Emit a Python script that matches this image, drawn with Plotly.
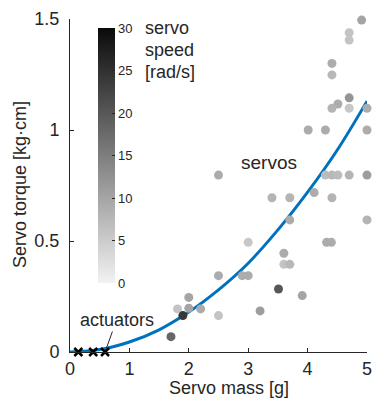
import plotly.graph_objects as go

# Servo data: mass [g], torque [kg·cm], speed [rad/s]
servo_mass = [4.91, 4.70, 4.70, 4.41, 4.41, 4.70, 4.51, 4.41, 4.70, 5.00,
              4.01, 4.30, 5.00, 2.50, 4.30, 4.41, 4.51, 4.70, 5.00, 3.40,
              3.70, 4.11, 4.41, 3.70, 5.00, 3.00, 4.32, 4.40, 3.60, 3.60,
              3.70, 2.50, 2.90, 3.00, 3.51, 3.91, 2.00, 1.81, 2.00, 2.20,
              1.90, 2.50, 3.20, 1.70]
servo_torque = [1.495, 1.438, 1.405, 1.30, 1.248, 1.145, 1.117, 1.098, 1.098, 1.098,
                1.00, 1.00, 1.00, 0.797, 0.797, 0.797, 0.797, 0.797, 0.797, 0.695,
                0.695, 0.718, 0.695, 0.595, 0.595, 0.494, 0.494, 0.494, 0.445, 0.395,
                0.395, 0.344, 0.344, 0.344, 0.284, 0.254, 0.246, 0.194, 0.197, 0.194,
                0.164, 0.164, 0.185, 0.069]
servo_speed = [10, 6, 6, 9, 7.5, 12, 9, 8, 5.5, 9,
               9, 9, 9, 9, 7, 7.5, 7, 8, 11, 8,
               8, 9, 8, 9, 8, 5.5, 9, 9, 9, 6,
               7.5, 9, 9, 9, 20, 10, 10, 6, 10, 9,
               24, 6, 11, 18]

# Actuators
act_mass = [0.14, 0.39, 0.59]
act_torque = [0.0, 0.0, 0.0]

# Fit curve
fit_mass = [0, 0.5, 1.0, 1.5, 2.0, 2.5, 3.0, 3.5, 4.0, 4.5, 5.0]
fit_torque = [0, 0.011, 0.045, 0.10, 0.18, 0.28, 0.40, 0.55, 0.72, 0.91, 1.13]

x_ticks = [0, 1, 2, 3, 4, 5]
y_ticks = [0, 0.5, 1, 1.5]
y_tick_text = ["0", "0.5", "1", "1.5"]
cb_ticks = [0, 5, 10, 15, 20, 25, 30]
cb_title_lines = ["servo", "speed", "[rad/s]"]

FONT = "Liberation Sans, Arial, sans-serif"
TXT = "#262626"

# plot area in screen pixels: x 70..367, y 19..352
PW, PH = 297.0, 333.0


def px(xp):
    return (xp - 70) / PW


def py(yp):
    return (352 - yp) / PH


fig = go.Figure()

fig.add_trace(go.Scatter(
    x=fit_mass, y=fit_torque, mode="lines", line_shape="spline",
    line=dict(color="#0072BD", width=3), cliponaxis=False, showlegend=False,
    hoverinfo="skip"))

fig.add_trace(go.Scatter(
    x=servo_mass, y=servo_torque, mode="markers", cliponaxis=False,
    showlegend=False,
    marker=dict(size=9, color=servo_speed, cmin=0, cmax=30,
                colorscale=[[0, "#f2f2f2"], [1, "#0a0a0a"]],
                line=dict(width=0),
                colorbar=dict(
                    x=px(98), xanchor="left", y=py(283), yanchor="bottom",
                    len=(283 - 28) / PH, lenmode="fraction", thickness=17,
                    thicknessmode="pixels", outlinewidth=0,
                    tickvals=cb_ticks, ticks="inside", ticklen=3,
                    tickcolor=TXT, tickfont=dict(family=FONT, size=13, color=TXT),
                    xpad=0, ypad=0))))

fig.add_trace(go.Scatter(
    x=act_mass, y=act_torque, mode="markers", cliponaxis=False, showlegend=False,
    marker=dict(symbol="x-thin-open", size=8, color="black",
                line=dict(width=2.5, color="black"))))

annotations = [
    dict(text="Servo mass [g]", xref="paper", yref="paper", x=px(229), y=py(388),
         showarrow=False, xanchor="center", yanchor="middle", font=dict(size=18)),
    dict(text="Servo torque [kg·cm]", xref="paper", yref="paper",
         x=px(20), y=py(185), textangle=-90, showarrow=False,
         xanchor="center", yanchor="middle", font=dict(size=18)),
    dict(text="servos", xref="x", yref="y", x=3.345, y=0.853,
         showarrow=False, font=dict(size=19)),
    dict(text="actuators", xref="x", yref="y", x=0.59, y=0.0,
         ax=11.5, ay=-32, showarrow=True, arrowhead=0, arrowwidth=1,
         arrowcolor=TXT, standoff=4, font=dict(size=18)),
]
for i, line in enumerate(cb_title_lines):
    annotations.append(dict(text=line, xref="paper", yref="paper",
                            x=px(143), y=py(28 + 22 * i), xanchor="left",
                            yanchor="middle", showarrow=False,
                            font=dict(size=18)))

fig.update_layout(
    width=373, height=401,
    margin=dict(l=70, r=373 - 367, t=19, b=401 - 352, autoexpand=False),
    paper_bgcolor="white", plot_bgcolor="white",
    font=dict(family=FONT, size=18, color=TXT),
    hovermode=False,
    xaxis=dict(range=[0, 5], tickvals=x_ticks, ticks="inside", ticklen=4,
               showgrid=False, zeroline=False, showline=True, linecolor=TXT,
               linewidth=1, tickcolor=TXT, tickfont=dict(size=18),
               ticklabelstandoff=0),
    yaxis=dict(range=[0, 1.5], tickvals=y_ticks, ticktext=y_tick_text,
               ticks="inside", ticklen=4, showgrid=False, zeroline=False,
               showline=True, linecolor=TXT, linewidth=1, tickcolor=TXT,
               tickfont=dict(size=18), ticklabelstandoff=6),
    annotations=annotations,
)

fig.write_html(
    "out.html",
    config={"displayModeBar": False},
    post_script="document.body.style.margin='0';"
                "document.documentElement.style.overflow='hidden';")
